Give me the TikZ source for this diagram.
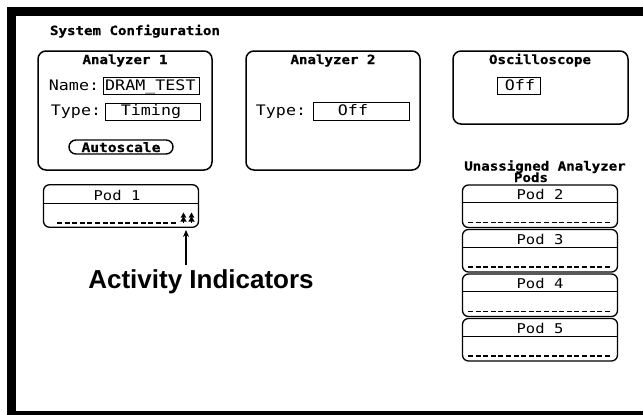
\documentclass[tikz,border=0pt]{standalone}
\usepackage{fontspec}
\newfontfamily\hp[FakeStretch=1.15]{DejaVu Sans Mono}
\newfontfamily\hpb[FakeStretch=1.12,FakeBold=0.8]{DejaVu Sans Mono Bold}
\newfontfamily\hel{Liberation Sans}
\usetikzlibrary{arrows.meta}
\tikzset{
  panel/.style={draw, line width=1.5pt, rounded corners=8pt, inner sep=0pt},
  podbox/.style={draw, line width=1.3pt, rounded corners=6pt, inner sep=0pt, minimum width=155pt, minimum height=42.5pt},
  field/.style={draw, line width=1pt, inner sep=0pt, minimum height=17pt},
  ttl/.style={font=\hpb\fontsize{12.6}{12}\selectfont, anchor=base, inner sep=0pt},
  lbl/.style={font=\hp\fontsize{14.5}{14}\selectfont, anchor=base, inner sep=0pt},
  podlbl/.style={font=\hp\fontsize{13.5}{13}\selectfont, anchor=base, inner sep=0pt},
  sepline/.style={line width=1pt},
  dashline/.style={line width=1.3pt, dash pattern=on 5pt off 2.6pt},
  indic/.style={line width=1pt}
}
\begin{document}
\begin{tikzpicture}[x=1pt,y=-1pt]
\clip (0,0) rectangle (643,415);
\fill[white] (0,0) rectangle (643,415);
% frame
\draw[line width=9pt] (11,11) rectangle (700,415.5);

% heading
\node[ttl] (sys) at (135,35) {System Configuration};

% Analyzer 1
\node[panel, minimum width=174pt, minimum height=119pt] (an1) at (125,110.5) {};
\node[ttl] (an1t) at (125,64) {Analyzer 1};
\node[lbl] (namel) at (74,90) {Name:};
\node[field, minimum width=96pt] (namef) at (151,85.5) {};
\node[lbl, anchor=base west] (namev) at (105,90) {DRAM\_TEST};
\node[lbl] (typel) at (76,115) {Type:};
\node[field, minimum width=95pt] (typef) at (152.5,111.5) {};
\node[lbl] (typev) at (151,115) {Timing};
\node[draw, line width=1.4pt, rounded corners=7pt, minimum width=104pt, minimum height=14pt, inner sep=0pt] (auto) at (121,147) {};
\node[ttl, font=\hpb\fontsize{13}{13}\selectfont] (autot) at (121,152) {Autoscale};

% Analyzer 2
\node[panel, minimum width=174pt, minimum height=119pt] (an2) at (333,110.5) {};
\node[ttl] (an2t) at (333,64) {Analyzer 2};
\node[lbl] (type2l) at (281,115) {Type:};
\node[field, minimum width=96pt, minimum height=18pt] (type2f) at (361,111) {};
\node[lbl] (type2v) at (353,115) {Off};

% Oscilloscope
\node[panel, minimum width=175pt, minimum height=73pt] (osc) at (540.5,87.5) {};
\node[ttl] (osct) at (540,64) {Oscilloscope};
\node[field, minimum width=43pt] (oscf) at (518.5,85.5) {};
\node[lbl] (oscv) at (520,90) {Off};

% Unassigned pods heading
\node[ttl] (un1) at (545,170.5) {Unassigned Analyzer};
\node[ttl] (un2) at (531,182) {Pods};

% Pod 1
\node[podbox] (pod1) at (121,206) {};
\draw[sepline] (pod1.west |- 0,203) -- (pod1.east |- 0,203);
\node[podlbl] (pod1t) at (117,200) {Pod 1};
\draw[dashline] (57,223) -- (178,223);
% activity indicators
\foreach \xx in {183.5,191.5}{
  \draw[indic] (\xx,223) -- (\xx,213);
  \fill (\xx,212.5) -- (\xx-2.8,217.5) -- (\xx+2.8,217.5) -- cycle;
  \fill (\xx,216.5) -- (\xx-3.2,221.5) -- (\xx+3.2,221.5) -- cycle;
}
\coordinate (ind) at (186,230);

% Pods 2-5
\foreach \n/\t in {2/185,3/229.5,4/274,5/318.5}{
  \node[podbox] (pod\n) at (540,\t+21.25) {};
  \draw[sepline] (pod\n.west |- 0,\t+17.5) -- (pod\n.east |- 0,\t+17.5);
  \node[podlbl] (pod\n t) at (540,\t+14.5) {Pod \n};
  \draw[dashline] (468,\t+37.5) -- (612,\t+37.5);
}

% Activity indicators label + arrow
\node[font=\hel\bfseries\fontsize{26}{26}\selectfont, anchor=base, inner sep=0pt] (act) at (201,288) {Activity Indicators};
\coordinate (arrbot) at (186,265);
\draw[line width=1.8pt, -{Stealth[length=7pt,width=6pt]}] (arrbot) -- (ind);
\end{tikzpicture}
\end{document}
